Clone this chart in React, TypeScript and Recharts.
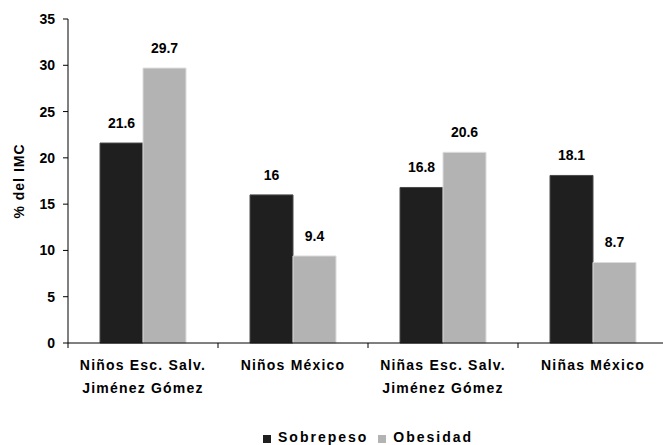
import React from 'react';
import { BarChart, Bar, XAxis, YAxis, LabelList, Legend } from 'recharts';

const categories = ['Niños Esc. Salv.\nJiménez Gómez', 'Niños México', 'Niñas Esc. Salv.\nJiménez Gómez', 'Niñas México'];
const sobrepeso = [21.6, 16, 16.8, 18.1];
const obesidad = [29.7, 9.4, 20.6, 8.7];
const yTicks = [0, 5, 10, 15, 20, 25, 30, 35];

const FONT = '"Liberation Sans", Arial, sans-serif';
const DARK = '#1f1f1f';
const LIGHT = '#b3b3b3';

const data = categories.map((name, i) => ({ name, sobrepeso: sobrepeso[i], obesidad: obesidad[i] }));

const CategoryTick = ({ x, y, payload }: any) => {
  const lines = String(payload.value).split('\n');
  return (
    <g>
      <line x1={x - 75} x2={x - 75} y1={y} y2={y + 5} stroke="#000" />
      <text x={x} y={y} textAnchor="middle" fill="#000" fontFamily={FONT} fontWeight="bold" fontSize={14} letterSpacing={1.2}>
        {lines.map((l: string, i: number) => (
          <tspan key={i} x={x} dy={i === 0 ? 27 : 23}>{l}</tspan>
        ))}
      </text>
    </g>
  );
};

const LegendContent = () => (
  <div style={{ display: 'flex', alignItems: 'flex-end', fontFamily: FONT, fontWeight: 'bold', fontSize: 14, letterSpacing: 2, color: '#000', lineHeight: '16px' }}>
    <span style={{ width: 8, height: 8, background: DARK, display: 'inline-block', marginRight: 7, marginBottom: 2 }} />
    <span style={{ marginRight: 10 }}>Sobrepeso</span>
    <span style={{ width: 8, height: 8, background: LIGHT, display: 'inline-block', marginRight: 7, marginBottom: 2 }} />
    <span>Obesidad</span>
  </div>
);

export default function App() {
  return (
    <div style={{ position: 'absolute', left: 0, top: 0, width: 663, height: 445, overflow: 'hidden', background: '#fff' }}>
      <BarChart width={668} height={445} data={data} margin={{ top: 19, right: 0, left: 0, bottom: 42 }} barCategoryGap={32} barGap={0}>
        <XAxis dataKey="name" interval={0} height={60} tickSize={0} tickMargin={0} tick={<CategoryTick />} axisLine={{ stroke: '#000' }} tickLine={false} />
        <YAxis
          width={68}
          domain={[0, 35]}
          ticks={yTicks}
          interval={0}
          tickSize={5}
          tickMargin={8}
          axisLine={{ stroke: '#000' }}
          tickLine={{ stroke: '#000' }}
          tick={{ fill: '#000', fontFamily: FONT, fontWeight: 'bold', fontSize: 14 }}
          label={{ value: '% del IMC', angle: -90, position: 'insideLeft', offset: 19, style: { textAnchor: 'middle', fill: '#000', fontFamily: FONT, fontWeight: 'bold', fontSize: 14, letterSpacing: 1 } }}
        />
        <Legend verticalAlign="middle" layout="horizontal" content={<LegendContent />} wrapperStyle={{ top: 429, left: 263, width: 'auto' }} />
        <Bar dataKey="sobrepeso" name="Sobrepeso" fill={DARK} stroke="#4a4a4a" strokeWidth={1} isAnimationActive={false}>
          <LabelList dataKey="sobrepeso" position="top" offset={15} fill="#000" fontFamily={FONT} fontWeight="bold" fontSize={14} />
        </Bar>
        <Bar dataKey="obesidad" name="Obesidad" fill={LIGHT} stroke="#dcdcdc" strokeWidth={1} isAnimationActive={false}>
          <LabelList dataKey="obesidad" position="top" offset={15} fill="#000" fontFamily={FONT} fontWeight="bold" fontSize={14} />
        </Bar>
      </BarChart>
    </div>
  );
}
